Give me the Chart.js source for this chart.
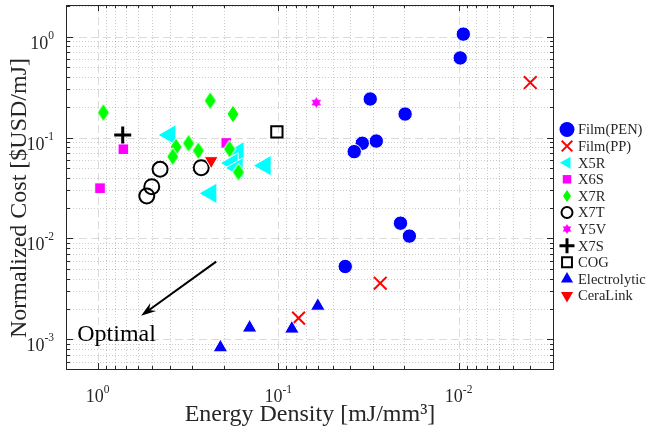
<!DOCTYPE html>
<html><head><meta charset="utf-8">
<script src="https://cdn.jsdelivr.net/npm/chart.js@4.4.1/dist/chart.umd.min.js"></script>
<style>html,body{margin:0;padding:0;background:#fff;}canvas{display:block;}</style>
</head><body>
<canvas id="c" width="646" height="434"></canvas>
<script>
// ---------- data ----------
const filmPEN_x = [0.00942, 0.0098, 0.0309, 0.0198, 0.0286, 0.0342, 0.0379, 0.021, 0.01875, 0.0425];
const filmPEN_y = [1.06, 0.615, 0.241, 0.171, 0.0923, 0.0878, 0.0725, 0.01416, 0.01055, 0.00527];
const filmPP_x = [0.00401, 0.0272, 0.0771];
const filmPP_y = [0.351, 0.0036, 0.00162];
const x5r_x = [0.398, 0.118, 0.236, 0.1667, 0.18, 0.1687];
const x5r_y = [0.106, 0.0527, 0.028, 0.072, 0.0558, 0.0499];
const x6s_x = [0.971, 0.721, 0.194];
const x6s_y = [0.0315, 0.0766, 0.0884];
const x7r_x = [0.931, 0.238, 0.178, 0.368, 0.314, 0.277, 0.186, 0.384, 0.166];
const x7r_y = [0.177, 0.232, 0.171, 0.0807, 0.0878, 0.0741, 0.077, 0.0647, 0.0453];
const x7t_x = [0.4513, 0.5017, 0.5348, 0.267];
const x7t_y = [0.0485, 0.0326, 0.0264, 0.0503];
const y5v_x = [0.0615];
const y5v_y = [0.222];
const x7s_x = [0.727];
const x7s_y = [0.106];
const cog_x = [0.1017];
const cog_y = [0.1136];
const elec_x = [0.209, 0.144, 0.084, 0.0603];
const elec_y = [0.000828, 0.0013, 0.00127, 0.00214];
const ceralink_x = [0.235];
const ceralink_y = [0.059];

const SERIES_NAMES = ['Film(PEN)', 'Film(PP)', 'X5R', 'X6S', 'X7R', 'X7T', 'Y5V', 'X7S', 'COG', 'Electrolytic', 'CeraLink'];
const X_TICKS = [1, 0.1, 0.01];
const X_TICK_EXP = ['0', '-1', '-2'];
const Y_TICKS = [1, 0.1, 0.01, 0.001];
const Y_TICK_EXP = ['0', '-1', '-2', '-3'];
const X_TITLE = 'Energy Density [mJ/mm³]';
const Y_TITLE = 'Normalized Cost [$USD/mJ]';
const NOTE_TEXT = 'Optimal';
// annotation anchors in data space
const ARROW_FROM = {x: 0.2206, y: 0.00589};
const ARROW_TO = {x: 0.575, y: 0.00171};
const NOTE_AT = {x: 1.298, y: 0.00097};

// ---------- marker images ----------
function diamondCanvas(w, h, fill, stroke) {
  const c = document.createElement('canvas');
  c.width = w + 2; c.height = h + 2;
  const g = c.getContext('2d');
  g.beginPath();
  g.moveTo(c.width / 2, 1); g.lineTo(c.width - 1, c.height / 2);
  g.lineTo(c.width / 2, c.height - 1); g.lineTo(1, c.height / 2); g.closePath();
  g.fillStyle = fill; g.fill();
  if (stroke) { g.strokeStyle = stroke; g.lineWidth = 1; g.stroke(); }
  return c;
}
function hexagramCanvas(r, fill) {
  const s = Math.ceil(2 * r + 2);
  const c = document.createElement('canvas');
  c.width = s; c.height = s;
  const g = c.getContext('2d');
  const cx = s / 2, cy = s / 2;
  g.fillStyle = fill;
  [0, Math.PI].forEach(off => {
    g.beginPath();
    for (let k = 0; k < 3; k++) {
      const a = off + k * 2 * Math.PI / 3;
      const px = cx + Math.sin(a) * r, py = cy - Math.cos(a) * r;
      k ? g.lineTo(px, py) : g.moveTo(px, py);
    }
    g.closePath(); g.fill();
  });
  return c;
}

const pts = (xs, ys) => xs.map((x, i) => ({x: x, y: ys[i]}));
const diamondBig = diamondCanvas(12, 18, '#00ff00', '#ffffff');
const diamondSmall = diamondCanvas(8, 12, '#00ff00', null);
const starBig = hexagramCanvas(5.5, '#ff00ff');
const starSmall = hexagramCanvas(5, '#ff00ff');

const specs = [
  {xs: filmPEN_x, ys: filmPEN_y, style: 'circle', r: 7.2, rot: 0, fill: '#0000ff', stroke: '#ffffff', lw: 1, lr: 7.5, lstyle: 'circle', llw: 0},
  {xs: filmPP_x, ys: filmPP_y, style: 'crossRot', r: 9, rot: 0, fill: '#ff0000', stroke: '#ff0000', lw: 2, lr: 7.5, lstyle: 'crossRot', llw: 2},
  {xs: x5r_x, ys: x5r_y, style: 'triangle', r: 12, rot: -90, fill: '#00ffff', stroke: '#ffffff', lw: 1, lr: 7, lstyle: 'triangle', llw: 0},
  {xs: x6s_x, ys: x6s_y, style: 'rect', r: 7.5, rot: 0, fill: '#ff00ff', stroke: '#ffffff', lw: 1, lr: 6, lstyle: 'rect', llw: 0},
  {xs: x7r_x, ys: x7r_y, style: diamondBig, r: 9, rot: 0, fill: '#00ff00', stroke: '#ffffff', lw: 1, lr: 6, lstyle: diamondSmall, llw: 0},
  {xs: x7t_x, ys: x7t_y, style: 'circle', r: 7.5, rot: 0, fill: 'rgba(0,0,0,0)', stroke: '#000000', lw: 2, lr: 5.5, lstyle: 'circle', llw: 2},
  {xs: y5v_x, ys: y5v_y, style: starBig, r: 6, rot: 0, fill: '#ff00ff', stroke: '#ff00ff', lw: 0, lr: 5, lstyle: starSmall, llw: 0},
  {xs: x7s_x, ys: x7s_y, style: 'cross', r: 8.5, rot: 0, fill: '#000000', stroke: '#000000', lw: 3, lr: 7.5, lstyle: 'cross', llw: 3},
  {xs: cog_x, ys: cog_y, style: 'rect', r: 8, rot: 0, fill: 'rgba(0,0,0,0)', stroke: '#000000', lw: 2, lr: 7, lstyle: 'rect', llw: 2},
  {xs: elec_x, ys: elec_y, style: 'triangle', r: 8.5, rot: 0, fill: '#0000ff', stroke: '#ffffff', lw: 1, lr: 7, lstyle: 'triangle', llw: 0},
  {xs: ceralink_x, ys: ceralink_y, style: 'triangle', r: 8, rot: 180, fill: '#ff0000', stroke: '#ffffff', lw: 1, lr: 7, lstyle: 'triangle', llw: 0}
];

const datasets = specs.map((s, i) => ({
  label: SERIES_NAMES[i],
  data: pts(s.xs, s.ys),
  order: -i,
  pointStyle: s.style,
  pointRadius: s.r,
  pointHoverRadius: s.r,
  pointRotation: s.rot,
  pointBackgroundColor: s.fill,
  pointBorderColor: s.stroke,
  pointBorderWidth: s.lw,
  backgroundColor: s.fill,
  borderColor: s.stroke,
  showLine: false
}));

const FONT = '"Liberation Serif", "Times New Roman", serif';
const TXT = '#262626';

function drawMarker(g, style, x, y, r, rot, fill, stroke, lw) {
  g.save();
  if (typeof style === 'object') {
    g.drawImage(style, Math.round(x - style.width / 2), Math.round(y - style.height / 2));
    g.restore(); return;
  }
  const rad = (rot || 0) * Math.PI / 180;
  g.beginPath();
  if (style === 'circle') g.arc(x, y, r, 0, Math.PI * 2);
  else if (style === 'triangle') {
    let a = rad;
    for (let k = 0; k < 3; k++) {
      const px = x + Math.sin(a) * r, py = y - Math.cos(a) * r;
      k ? g.lineTo(px, py) : g.moveTo(px, py);
      a += 2 * Math.PI / 3;
    }
    g.closePath();
  } else if (style === 'rect') {
    const s = r * Math.SQRT1_2; g.rect(x - s, y - s, 2 * s, 2 * s);
  } else if (style === 'cross') {
    g.moveTo(x - r, y); g.lineTo(x + r, y); g.moveTo(x, y - r); g.lineTo(x, y + r);
  } else if (style === 'crossRot') {
    const s = r * Math.SQRT1_2;
    g.moveTo(x - s, y - s); g.lineTo(x + s, y + s); g.moveTo(x + s, y - s); g.lineTo(x - s, y + s);
  }
  if (style !== 'cross' && style !== 'crossRot' && fill) { g.fillStyle = fill; g.fill(); }
  if (lw > 0) { g.strokeStyle = stroke; g.lineWidth = lw; g.stroke(); }
  g.restore();
}

function logVals(min, max) {
  const major = [], minor = [];
  for (let e = -6; e <= 3; e++) {
    for (let m = 1; m <= 9; m++) {
      const v = m * Math.pow(10, e);
      if (v >= min * 0.9999 && v <= max * 1.0001) (m === 1 ? major : minor).push(v);
    }
  }
  return {major, minor};
}

const framePlugin = {
  id: 'frame',
  beforeDatasetsDraw(chart) {
    const g = chart.ctx, a = chart.chartArea, xs = chart.scales.x, ys = chart.scales.y;
    const xv = logVals(xs.min, xs.max), yv = logVals(ys.min, ys.max);
    g.save();
    g.lineWidth = 1;
    // minor grid (dotted)
    g.strokeStyle = 'rgba(0,0,0,0.2)';
    g.setLineDash([1, 2]);
    g.beginPath();
    xv.minor.forEach(v => { const p = Math.round(xs.getPixelForValue(v)) + 0.5; g.moveTo(p, a.top); g.lineTo(p, a.bottom); });
    yv.minor.forEach(v => { const p = Math.round(ys.getPixelForValue(v)) + 0.5; g.moveTo(a.left, p); g.lineTo(a.right, p); });
    g.stroke();
    // major grid (dashed)
    g.strokeStyle = 'rgba(0,0,0,0.14)';
    g.setLineDash([8, 4]);
    g.beginPath();
    xv.major.forEach(v => { const p = Math.round(xs.getPixelForValue(v)) + 0.5; g.moveTo(p, a.top); g.lineTo(p, a.bottom); });
    yv.major.forEach(v => { const p = Math.round(ys.getPixelForValue(v)) + 0.5; g.moveTo(a.left, p); g.lineTo(a.right, p); });
    g.stroke();
    g.restore();
  },
  afterDatasetsDraw(chart) {
    const g = chart.ctx, a = chart.chartArea, xs = chart.scales.x, ys = chart.scales.y;
    const xv = logVals(xs.min, xs.max), yv = logVals(ys.min, ys.max);
    g.save();
    // box
    g.strokeStyle = TXT; g.lineWidth = 1; g.setLineDash([]);
    g.strokeRect(a.left - 0.5, a.top + 0.5, a.right - a.left + 1, a.bottom - a.top);
    // ticks
    const MAJ = 6, MIN = 3;
    g.beginPath();
    const tx = (v, len) => { const p = Math.round(xs.getPixelForValue(v)) + 0.5;
      g.moveTo(p, a.bottom); g.lineTo(p, a.bottom - len); g.moveTo(p, a.top); g.lineTo(p, a.top + len); };
    const ty = (v, len) => { const p = Math.round(ys.getPixelForValue(v)) + 0.5;
      g.moveTo(a.left, p); g.lineTo(a.left + len, p); g.moveTo(a.right, p); g.lineTo(a.right - len, p); };
    xv.major.forEach(v => tx(v, MAJ)); xv.minor.forEach(v => tx(v, MIN));
    yv.major.forEach(v => ty(v, MAJ)); yv.minor.forEach(v => ty(v, MIN));
    g.stroke();

    // tick labels
    g.fillStyle = TXT;
    g.textBaseline = 'alphabetic';
    const bigF = '18px ' + FONT, supF = '11.5px ' + FONT;
    X_TICKS.forEach((v, i) => {
      const p = xs.getPixelForValue(v);
      g.font = bigF; const w1 = g.measureText('10').width;
      g.font = supF; const w2 = g.measureText(X_TICK_EXP[i]).width;
      const x0 = p - (w1 + w2) / 2;
      g.textAlign = 'left';
      g.font = bigF; g.fillText('10', x0, a.bottom + 33);
      g.font = supF; g.fillText(X_TICK_EXP[i], x0 + w1, a.bottom + 24);
    });
    Y_TICKS.forEach((v, i) => {
      const p = ys.getPixelForValue(v);
      g.font = supF; const w2 = g.measureText(Y_TICK_EXP[i]).width;
      g.font = bigF; const w1 = g.measureText('10').width;
      const xr = a.left - 13;
      g.textAlign = 'left';
      g.font = bigF; g.fillText('10', xr - w2 - w1, p + 12);
      g.font = supF; g.fillText(Y_TICK_EXP[i], xr - w2, p + 2);
    });

    // axis titles
    g.font = '24px ' + FONT;
    g.textAlign = 'center';
    g.fillText(X_TITLE, (a.left + a.right) / 2, 421);
    g.save();
    g.translate(25.5, 198);
    g.rotate(-Math.PI / 2);
    g.fillText(Y_TITLE, 0, 0);
    g.restore();

    // arrow annotation
    const x1 = xs.getPixelForValue(ARROW_FROM.x), y1 = ys.getPixelForValue(ARROW_FROM.y);
    const x2 = xs.getPixelForValue(ARROW_TO.x), y2 = ys.getPixelForValue(ARROW_TO.y);
    const ang = Math.atan2(y2 - y1, x2 - x1);
    const HL = 15, HW = 5;
    const bx = x2 - Math.cos(ang) * HL, by = y2 - Math.sin(ang) * HL;
    g.strokeStyle = '#000'; g.fillStyle = '#000'; g.lineWidth = 2;
    g.beginPath(); g.moveTo(x1, y1); g.lineTo(x2 - Math.cos(ang) * 6, y2 - Math.sin(ang) * 6); g.stroke();
    g.beginPath();
    g.moveTo(x2, y2);
    g.lineTo(bx + Math.sin(ang) * HW, by - Math.cos(ang) * HW);
    g.lineTo(x2 - Math.cos(ang) * 10, y2 - Math.sin(ang) * 10);
    g.lineTo(bx - Math.sin(ang) * HW, by + Math.cos(ang) * HW);
    g.closePath(); g.fill();

    g.fillStyle = '#000';
    g.font = '24px ' + FONT; g.textAlign = 'left';
    g.fillText(NOTE_TEXT, xs.getPixelForValue(NOTE_AT.x), ys.getPixelForValue(NOTE_AT.y));

    // legend
    g.font = '14.5px ' + FONT; g.textAlign = 'left'; g.textBaseline = 'middle';
    chart.data.datasets.forEach((ds, i) => {
      const s = specs[i];
      const yy = 129.5 + 16.6 * i;
      drawMarker(g, s.lstyle, 567, yy, s.lr, s.rot, s.fill, s.stroke, s.llw);
      g.fillStyle = TXT;
      g.fillText(ds.label, 578, yy + 1);
    });
    g.restore();
  }
};

new Chart(document.getElementById('c'), {
  type: 'scatter',
  data: {datasets},
  options: {
    responsive: false,
    animation: false,
    events: [],
    layout: {autoPadding: false, padding: {left: 67, right: 93, top: 5, bottom: 65}},
    scales: {
      x: {type: 'logarithmic', reverse: true, min: 0.003, max: 1.48, display: false},
      y: {type: 'logarithmic', min: 0.000508, max: 2.06, display: false}
    },
    plugins: {legend: {display: false}, tooltip: {enabled: false}}
  },
  plugins: [framePlugin]
});
</script>
</body></html>
